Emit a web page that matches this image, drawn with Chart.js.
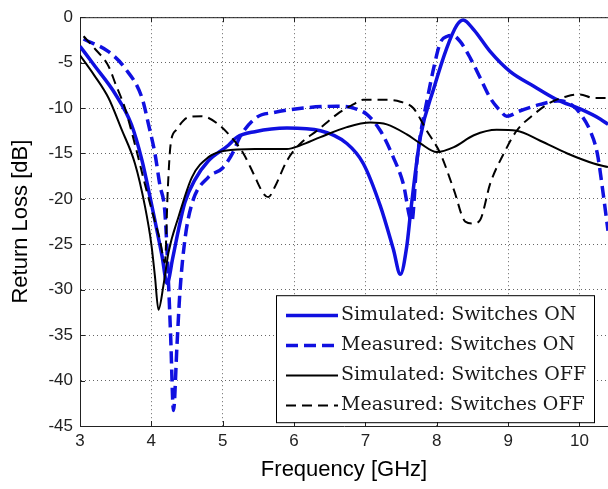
<!DOCTYPE html>
<html>
<head>
<meta charset="utf-8">
<title>Return Loss</title>
<script src="https://cdn.jsdelivr.net/npm/chart.js@4.4.1/dist/chart.umd.min.js"></script>
<style>
    html, body { margin: 0; padding: 0; background: #fff; }
    #wrap { width: 608px; height: 489px; }
</style>
</head>
<body>
<div id="wrap"><canvas id="returnLossChart" width="608" height="489"></canvas></div>
<script>
// Return loss data (frequency in GHz, loss in dB)

const seriesLabels = [
    'Simulated: Switches ON',
    'Measured: Switches ON',
    'Simulated: Switches OFF',
    'Measured: Switches OFF'
];

const simOnFreq = [3.0, 3.21, 3.49, 3.72, 3.87, 4.0, 4.15, 4.22, 4.3, 4.38, 4.47, 4.61, 4.8, 5.08, 5.2, 5.45, 5.9, 6.37, 6.74, 6.97, 7.21, 7.39, 7.49, 7.58, 7.64, 7.77, 7.96, 8.14, 8.28, 8.37, 8.52, 8.75, 9.03, 9.36, 9.69, 10.01, 10.29, 10.4];
const simOnLoss = [-3.2, -5.4, -8.4, -11.8, -15.8, -20.5, -26.3, -29.3, -26.5, -23.4, -20.4, -17.9, -15.8, -14.1, -13.2, -12.6, -12.2, -12.5, -13.9, -16.1, -20.8, -25.5, -28.3, -25.2, -21.0, -13.2, -7.8, -3.4, -0.9, -0.3, -1.4, -3.8, -6.0, -7.6, -9.1, -10.1, -11.2, -11.8];

const measOnFreq = [3.05, 3.4, 3.63, 3.87, 3.96, 4.05, 4.12, 4.19, 4.24, 4.27, 4.31, 4.36, 4.4, 4.47, 4.57, 4.8, 5.0, 5.15, 5.24, 5.48, 5.71, 6.13, 6.6, 6.83, 7.02, 7.21, 7.39, 7.53, 7.65, 7.72, 7.77, 7.86, 7.96, 8.05, 8.15, 8.22, 8.33, 8.47, 8.61, 8.75, 8.89, 8.98, 9.17, 9.45, 9.73, 9.9, 10.0, 10.15, 10.25, 10.32, 10.4];
const measOnLoss = [-2.4, -3.8, -5.6, -8.9, -11.8, -15.0, -18.5, -21.5, -29.2, -35.0, -43.3, -36.0, -30.3, -24.5, -20.5, -17.6, -16.6, -14.8, -13.2, -11.0, -10.5, -10.0, -9.8, -10.0, -10.7, -12.5, -15.4, -18.3, -22.5, -16.0, -13.0, -9.3, -5.5, -2.8, -2.1, -2.0, -2.7, -4.5, -6.7, -8.9, -10.3, -10.9, -10.3, -9.6, -9.2, -9.7, -10.5, -12.5, -15.0, -18.7, -23.5];

const simOffFreq = [3.0, 3.2, 3.4, 3.58, 3.77, 3.91, 4.0, 4.05, 4.1, 4.17, 4.24, 4.38, 4.57, 4.8, 5.03, 5.45, 5.9, 6.09, 6.37, 6.74, 7.07, 7.3, 7.58, 7.77, 8.0, 8.24, 8.52, 8.84, 9.12, 9.45, 9.83, 10.2, 10.4];
const simOffLoss = [-4.2, -6.4, -8.9, -12.3, -16.1, -20.8, -25.0, -28.5, -32.2, -29.5, -25.9, -22.0, -17.6, -15.4, -14.7, -14.5, -14.5, -14.1, -13.2, -12.1, -11.6, -11.8, -12.9, -13.9, -14.85, -14.3, -13.0, -12.4, -12.5, -13.6, -15.0, -16.1, -16.5];

const measOffFreq = [3.05, 3.2, 3.4, 3.5, 3.63, 3.77, 3.91, 4.05, 4.12, 4.19, 4.23, 4.27, 4.35, 4.52, 4.71, 4.94, 5.13, 5.29, 5.43, 5.57, 5.64, 5.73, 5.9, 6.09, 6.32, 6.6, 6.83, 6.97, 7.3, 7.49, 7.67, 7.86, 8.05, 8.24, 8.4, 8.52, 8.61, 8.75, 8.94, 9.12, 9.36, 9.59, 9.83, 10.01, 10.2, 10.4];
const measOffLoss = [-2.1, -3.4, -5.4, -7.4, -10.0, -14.0, -18.4, -22.5, -24.5, -27.0, -19.0, -14.0, -12.4, -11.0, -10.9, -11.8, -13.3, -15.0, -17.2, -19.4, -19.8, -18.7, -15.8, -13.9, -12.5, -10.7, -9.6, -9.1, -9.1, -9.3, -10.0, -12.5, -15.0, -19.0, -22.5, -22.7, -22.3, -18.3, -15.0, -12.5, -10.7, -9.4, -8.7, -8.5, -8.9, -8.9];

const freqTicks = [3, 4, 5, 6, 7, 8, 9, 10];
const lossTicks = [0, -5, -10, -15, -20, -25, -30, -35, -40, -45];

const BLUE = '#1010e0';
const BLACK = '#000000';

function toPoints(freq, loss) {
    return freq.map((f, i) => ({ x: f, y: loss[i] }));
}

function makeDataset(label, freq, loss, color, width, dash, order) {
    return {
        label: label,
        data: toPoints(freq, loss),
        borderColor: color,
        backgroundColor: color,
        borderWidth: width,
        borderDash: dash,
        borderJoinStyle: 'round',
        showLine: true,
        pointRadius: 0,
        cubicInterpolationMode: 'monotone',
        order: order
    };
}

// Legend drawn as a boxed Matlab-style legend inside the plot area
const legendBoxPlugin = {
    id: 'legendBox',
    afterDraw(chart, args, opts) {
        const ctx = chart.ctx;
        const area = chart.chartArea;
        const x0 = area.left + opts.offsetX;
        const y0 = area.top + opts.offsetY;
        const sets = chart.data.datasets;

        ctx.save();
        ctx.fillStyle = '#fff';
        ctx.fillRect(x0, y0, opts.width, opts.height);
        ctx.strokeStyle = '#000';
        ctx.lineWidth = 1;
        ctx.setLineDash([]);
        ctx.strokeRect(x0 + 0.5, y0 + 0.5, opts.width, opts.height);

        ctx.font = opts.font;
        ctx.textBaseline = 'middle';
        ctx.textAlign = 'left';
        sets.forEach((ds, i) => {
            const y = Math.round(y0 + opts.firstRow + i * opts.rowGap) + 0.5;
            ctx.strokeStyle = ds.borderColor;
            ctx.lineWidth = ds.borderWidth;
            ctx.setLineDash(ds.borderDash || []);
            ctx.beginPath();
            ctx.moveTo(x0 + 10, y);
            ctx.lineTo(x0 + 62, y);
            ctx.stroke();
            ctx.setLineDash([]);
            ctx.fillStyle = '#1a1a1a';
            ctx.fillText(ds.label, x0 + 65, y);
        });
        ctx.restore();
    }
};

// Top frame line and inward tick marks
const frameTicksPlugin = {
    id: 'frameTicks',
    afterDatasetsDraw(chart) {
        const ctx = chart.ctx;
        const area = chart.chartArea;
        const xs = chart.scales.x;
        const ys = chart.scales.y;
        ctx.save();
        ctx.strokeStyle = '#222';
        ctx.lineWidth = 1;
        ctx.beginPath();
        ctx.moveTo(area.left, area.top + 0.5);
        ctx.lineTo(area.right, area.top + 0.5);
        freqTicks.forEach(v => {
            const px = Math.round(xs.getPixelForValue(v)) + 0.5;
            ctx.moveTo(px, area.bottom);
            ctx.lineTo(px, area.bottom - 5);
            ctx.moveTo(px, area.top);
            ctx.lineTo(px, area.top + 5);
        });
        lossTicks.forEach(v => {
            const py = Math.round(ys.getPixelForValue(v)) + 0.5;
            ctx.moveTo(area.left, py);
            ctx.lineTo(area.left + 5, py);
        });
        ctx.stroke();
        ctx.restore();
    }
};

const ctx = document.getElementById('returnLossChart');

new Chart(ctx, {
    type: 'scatter',
    data: {
        datasets: [
            makeDataset(seriesLabels[0], simOnFreq, simOnLoss, BLUE, 3.5, [], 4),
            makeDataset(seriesLabels[1], measOnFreq, measOnLoss, BLUE, 3.5, [12, 6], 3),
            makeDataset(seriesLabels[2], simOffFreq, simOffLoss, BLACK, 2, [], 2),
            makeDataset(seriesLabels[3], measOffFreq, measOffLoss, BLACK, 2, [10, 6], 1)
        ]
    },
    options: {
        responsive: false,
        animation: false,
        layout: {
            padding: { top: 12, right: 0, bottom: 0, left: 0 }
        },
        plugins: {
            legend: { display: false },
            tooltip: { enabled: false },
            legendBox: {
                offsetX: 196,
                offsetY: 278,
                width: 318,
                height: 127,
                firstRow: 20,
                rowGap: 30,
                font: '19px "DejaVu Serif", serif'
            }
        },
        scales: {
            x: {
                type: 'linear',
                min: 3,
                max: 10.4,
                afterBuildTicks: scale => {
                    scale.ticks = freqTicks.map(v => ({ value: v }));
                },
                afterFit: scale => {
                    scale.height = 63;
                },
                ticks: {
                    color: '#222',
                    padding: 5,
                    maxRotation: 0,
                    font: { family: 'Liberation Sans, Arial, sans-serif', size: 17 }
                },
                grid: {
                    color: '#666',
                    lineWidth: 1,
                    drawTicks: false,
                    borderDash: [1, 3]
                },
                border: {
                    display: true,
                    color: '#222',
                    width: 1,
                    dash: [1, 3]
                },
                title: {
                    display: true,
                    text: 'Frequency [GHz]',
                    color: '#000',
                    font: { family: 'Liberation Sans, Arial, sans-serif', size: 22 },
                    padding: { top: 0, bottom: 6 }
                }
            },
            y: {
                type: 'linear',
                min: -45,
                max: 0,
                afterBuildTicks: scale => {
                    scale.ticks = lossTicks.map(v => ({ value: v }));
                },
                afterFit: scale => {
                    scale.width = 80;
                },
                ticks: {
                    color: '#222',
                    padding: 7,
                    font: { family: 'Liberation Sans, Arial, sans-serif', size: 17 }
                },
                grid: {
                    color: '#666',
                    lineWidth: 1,
                    drawTicks: false,
                    borderDash: [1, 3]
                },
                border: {
                    display: true,
                    color: '#222',
                    width: 1,
                    dash: [1, 3]
                },
                title: {
                    display: true,
                    text: 'Return Loss [dB]',
                    color: '#000',
                    font: { family: 'Liberation Sans, Arial, sans-serif', size: 22 },
                    padding: { top: 8, bottom: 0 }
                }
            }
        }
    },
    plugins: [frameTicksPlugin, legendBoxPlugin]
});
</script>
</body>
</html>
